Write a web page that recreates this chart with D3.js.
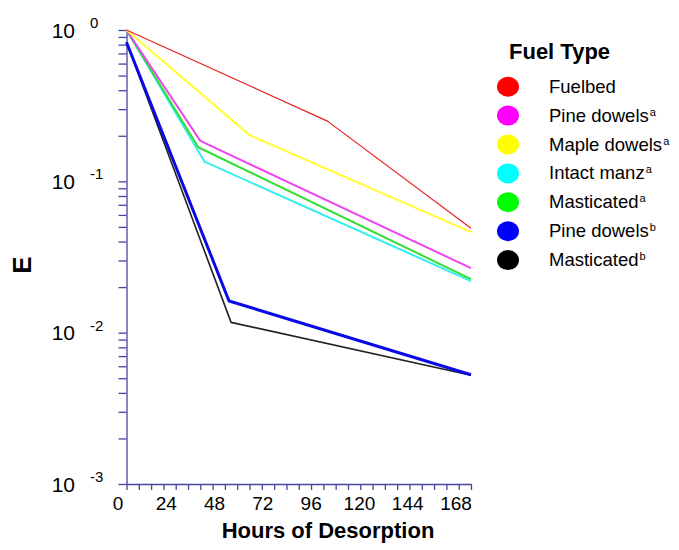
<!DOCTYPE html>
<html>
<head>
<meta charset="utf-8">
<script src="https://cdn.jsdelivr.net/npm/d3@7"></script>
<style>
    body { margin: 0; background: #fff; }
    svg text { font-family: "Liberation Sans", Arial, sans-serif; }
</style>
</head>
<body>
<div id="chart"></div>
<script>
    // fuel types, as in the legend (sup = superscript letter)
    const fuelNames = ["Fuelbed", "Pine dowels", "Maple dowels", "Intact manz", "Masticated", "Pine dowels", "Masticated"];
    const fuelSup = ["", "a", "a", "a", "a", "b", "b"];
    // each curve: start, one break, end (hours of desorption, E)
    const startHours = [0, 0, 0, 0, 0, 0, 0];
    const startE = [1, 1, 1, 1, 1, 0.83, 0.83];
    const breakHours = [98, 36, 60, 38, 35, 50, 51];
    const breakE = [0.25, 0.185, 0.202, 0.135, 0.168, 0.0162, 0.0117];
    const endHours = [168, 168, 168, 168, 168, 168, 168];
    const endE = [0.049, 0.0267, 0.0462, 0.0219, 0.0226, 0.00527, 0.00523];
    const xTickLabels = [0, 24, 48, 72, 96, 120, 144, 168];
    const yDecades = [0, -1, -2, -3];

    const colors = ["#ff0000", "#ff00ff", "#ffff00", "#00ffff", "#00ff00", "#0000ff", "#000000"];
    const lineColors = ["#e82020", "#ee44ee", "#ffff33", "#33eeee", "#33dd33", "#0a0ae6", "#222222"];
    const lineWidths = [1.2, 2, 2, 2, 2, 3, 1.6];
    const axisColor = "#46469c";

    const width = 679, height = 550;
    const svg = d3.select("#chart").append("svg")
        .attr("width", width)
        .attr("height", height);

    const x = d3.scaleLinear().domain([0, 168]).range([126.5, 471]);
    const xLabel = d3.scaleLinear().domain([0, 168]).range([118, 456]);
    const y = d3.scaleLog().domain([1e-3, 1]).range([484, 30]);

    // y axis with a tick on every 1..9 x 10^k
    const yTicks = [];
    for (let k = -3; k <= 0; k++) {
        for (let m = 1; m <= 9; m++) {
            const v = m * Math.pow(10, k);
            if (v <= 1) yTicks.push(v);
        }
    }
    svg.append("g")
        .attr("transform", `translate(${x(0)},0)`)
        .call(d3.axisLeft(y).tickValues(yTicks).tickSize(8).tickSizeOuter(0).tickFormat(""));

    svg.append("g")
        .attr("transform", `translate(0,${y(1e-3)})`)
        .call(d3.axisBottom(x).tickValues(d3.range(0, 169, 6)).tickSize(6).tickSizeOuter(0).tickFormat(""));

    svg.selectAll(".domain, .tick line")
        .attr("stroke", axisColor)
        .attr("stroke-width", 1.3);

    // y labels: 10 with superscript exponent
    const yl = svg.append("g").selectAll("g")
        .data(yDecades)
        .enter().append("g");
    yl.append("text")
        .attr("x", 75)
        .attr("y", d => y(Math.pow(10, d)) + 7.5)
        .attr("text-anchor", "end")
        .style("font-size", "21px")
        .text("10");
    yl.append("text")
        .attr("x", 90)
        .attr("y", d => y(Math.pow(10, d)) - 2)
        .style("font-size", "15px")
        .text(d => d === 0 ? "0" : "-" + Math.abs(d));

    svg.append("g").selectAll("text")
        .data(xTickLabels)
        .enter().append("text")
        .attr("x", d => xLabel(d))
        .attr("y", 510)
        .attr("text-anchor", "middle")
        .style("font-size", "19px")
        .text(d => d);

    svg.append("text")
        .attr("x", 328)
        .attr("y", 538)
        .attr("text-anchor", "middle")
        .style("font-size", "22px")
        .style("font-weight", "bold")
        .text("Hours of Desorption");

    svg.append("text")
        .attr("transform", "translate(21.5,265) rotate(-90)")
        .attr("dy", "0.36em")
        .attr("text-anchor", "middle")
        .style("font-size", "26px")
        .style("font-weight", "bold")
        .text("E");

    // curves
    const line = d3.line()
        .x(d => x(d[0]))
        .y(d => y(d[1]));

    const curves = fuelNames.map((name, i) => ({
        i: i,
        pts: [[startHours[i], startE[i]], [breakHours[i], breakE[i]], [endHours[i], endE[i]]]
    }));
    const drawOrder = [6, 5, 3, 4, 1, 2, 0];

    svg.append("g").selectAll("path")
        .data(drawOrder.map(i => curves[i]))
        .enter().append("path")
        .attr("d", d => line(d.pts))
        .attr("fill", "none")
        .attr("stroke", d => lineColors[d.i])
        .attr("stroke-width", d => lineWidths[d.i])
        .attr("stroke-linejoin", "round");

    // legend
    const legend = svg.append("g");
    legend.append("text")
        .attr("x", 509)
        .attr("y", 59)
        .style("font-size", "22px")
        .style("font-weight", "bold")
        .text("Fuel Type");

    const item = legend.selectAll("g.item")
        .data(fuelNames)
        .enter().append("g")
        .attr("class", "item")
        .attr("transform", (d, i) => `translate(0,${86.7 + i * 28.9})`);

    item.append("ellipse")
        .attr("cx", 508)
        .attr("cy", 0)
        .attr("rx", 11)
        .attr("ry", 10)
        .attr("fill", (d, i) => colors[i]);

    const lt = item.append("text")
        .attr("x", 549)
        .attr("y", 6)
        .style("font-size", "18.5px");
    lt.append("tspan").text(d => d);
    lt.append("tspan")
        .attr("dx", 1)
        .attr("dy", -6)
        .style("font-size", "11px")
        .text((d, i) => fuelSup[i]);
</script>
</body>
</html>
